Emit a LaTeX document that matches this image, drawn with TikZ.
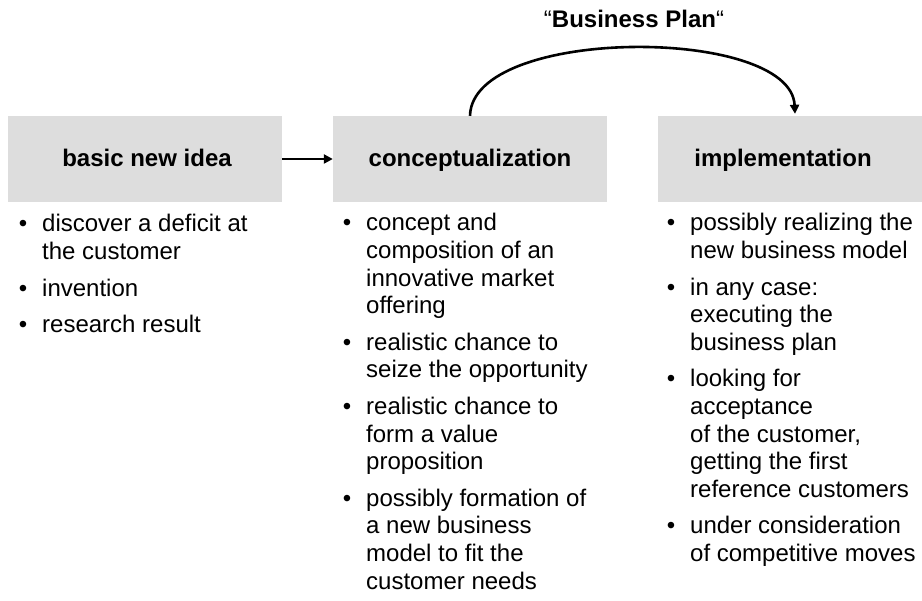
\documentclass[tikz,border=0pt]{standalone}
\usepackage{fontspec}
\setmainfont{Liberation Sans}
\usetikzlibrary{arrows.meta,calc}
\definecolor{boxgray}{RGB}{221,221,221}
\newcommand{\bulletgap}{\\[9pt]}
\begin{document}
\begin{tikzpicture}[x=1pt,y=-1pt,
  hbox/.style={fill=boxgray, draw=none, minimum width=274pt, minimum height=86pt, inner sep=0pt},
  htext/.style={font=\fontsize{24}{28}\selectfont\bfseries, inner sep=0pt, anchor=base},
  col/.style={anchor=base west, inner sep=0pt, align=left, font=\fontsize{24}{27.6}\selectfont},
  conn/.style={line width=2.6pt, -{Triangle[length=9pt,width=9pt]}}]
\useasboundingbox (0,0) rectangle (922,601);
\begin{scope}
\clip (0,0) rectangle (922,601);
\node[hbox] (b1) at (145,159) {};
\node[hbox] (b2) at (470,159) {};
\node[hbox] (b3) at (795,159) {};
\node[htext] (t1) at (147,167) {basic new idea};
\node[htext] (t2) at (470,167) {conceptualization};
\node[htext] (t3) at (783,167) {implementation};
\draw[conn] (b1.east) -- (b2.west);
\draw[conn] (b2.north) .. controls ($(b2.north)+(2,-90)$) and ($(b3.north)+(-4,-90)$) .. ($(b3.north)+(0,-2)$);
\node[font=\fontsize{24}{28}\selectfont, anchor=base, inner sep=0pt] (title) at (634,28) {“\textbf{Business Plan}“};
\node[col] (c1) at (18.6,232) {\begin{tabular}[t]{@{}l@{\hspace{15pt}}l@{}}
•& discover a deficit at\\
 & the customer\bulletgap
•& invention\bulletgap
•& research result
\end{tabular}};
\node[col] (c2) at (342.6,231) {\begin{tabular}[t]{@{}l@{\hspace{15pt}}l@{}}
•& concept and\\
 & composition of an\\
 & innovative market\\
 & offering\bulletgap
•& realistic chance to\\
 & seize the opportunity\bulletgap
•& realistic chance to\\
 & form a value\\
 & proposition\bulletgap
•& possibly formation of\\
 & a new business\\
 & model to fit the\\
 & customer needs
\end{tabular}};
\node[col] (c3) at (666.6,231) {\begin{tabular}[t]{@{}l@{\hspace{15pt}}l@{}}
•& possibly realizing the\\
 & new business model\bulletgap
•& in any case:\\
 & executing the\\
 & business plan\bulletgap
•& looking for\\
 & acceptance\\
 & of the customer,\\
 & getting the first\\
 & reference customers\bulletgap
•& under consideration\\
 & of competitive moves
\end{tabular}};
\end{scope}
\end{tikzpicture}
\end{document}
